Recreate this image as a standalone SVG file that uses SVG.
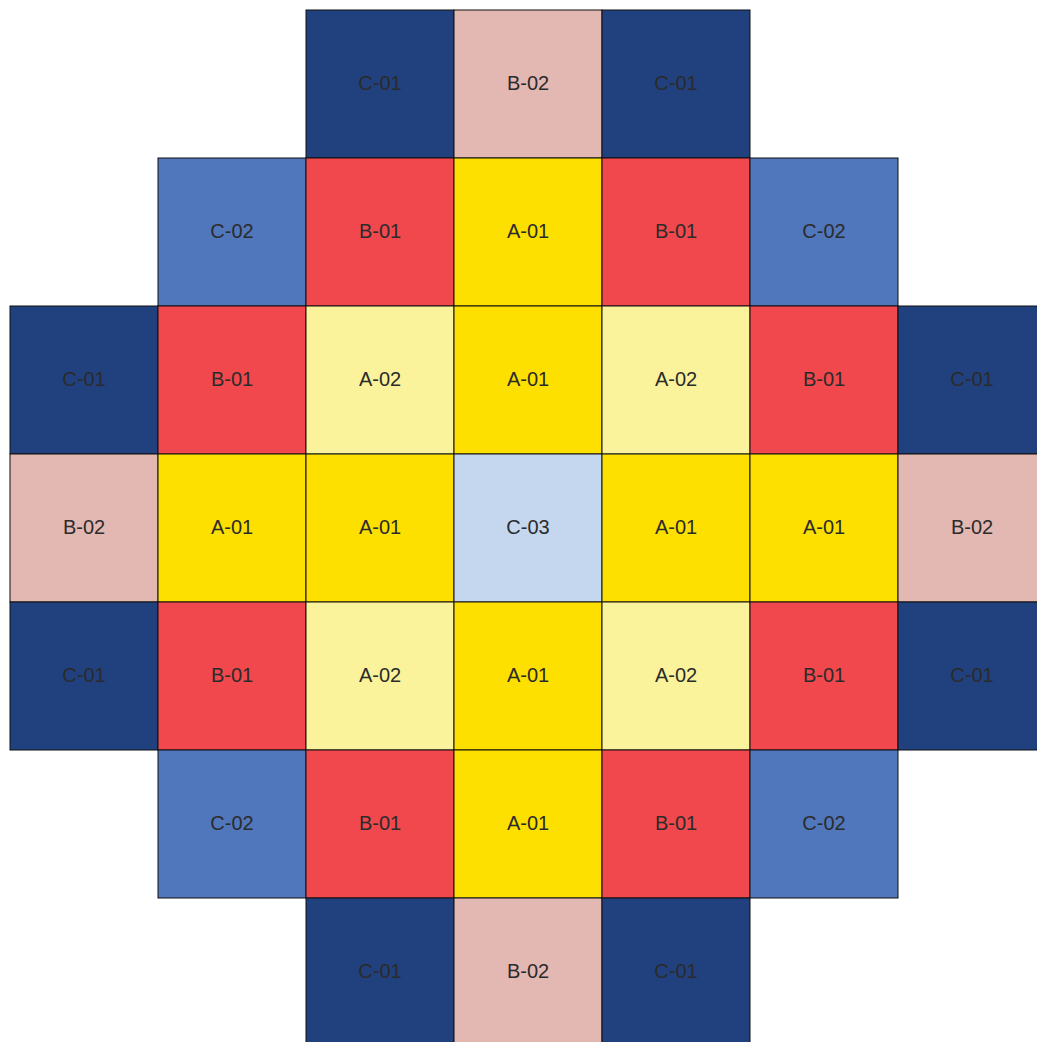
<svg xmlns="http://www.w3.org/2000/svg" width="1037" height="1042" viewBox="0 0 1037 1042">
<style>
rect{stroke:#111;stroke-width:1}
text{font-family:"Liberation Sans",Arial,sans-serif;font-size:20px;fill:#2b2b2b;text-anchor:middle;dominant-baseline:central}
.c1{fill:#21407E}.c2{fill:#5077BC}.c3{fill:#C5D7EE}
.b1{fill:#F0484C}.b2{fill:#E3B7B2}
.a1{fill:#FDE000}.a2{fill:#FAF39B}
</style>
<rect x="0" y="0" width="1037" height="1042" fill="#fff" style="stroke:none"/>
<g id="r0">
<g id="n0_2"><rect class="c1" x="306" y="10" width="148" height="148"/><text x="380" y="82.5">C-01</text></g>
<g id="n0_3"><rect class="b2" x="454" y="10" width="148" height="148"/><text x="528" y="82.5">B-02</text></g>
<g id="n0_4"><rect class="c1" x="602" y="10" width="148" height="148"/><text x="676" y="82.5">C-01</text></g>
</g>
<g id="r1">
<g id="n1_1"><rect class="c2" x="158" y="158" width="148" height="148"/><text x="232" y="230.5">C-02</text></g>
<g id="n1_2"><rect class="b1" x="306" y="158" width="148" height="148"/><text x="380" y="230.5">B-01</text></g>
<g id="n1_3"><rect class="a1" x="454" y="158" width="148" height="148"/><text x="528" y="230.5">A-01</text></g>
<g id="n1_4"><rect class="b1" x="602" y="158" width="148" height="148"/><text x="676" y="230.5">B-01</text></g>
<g id="n1_5"><rect class="c2" x="750" y="158" width="148" height="148"/><text x="824" y="230.5">C-02</text></g>
</g>
<g id="r2">
<g id="n2_0"><rect class="c1" x="10" y="306" width="148" height="148"/><text x="84" y="378.5">C-01</text></g>
<g id="n2_1"><rect class="b1" x="158" y="306" width="148" height="148"/><text x="232" y="378.5">B-01</text></g>
<g id="n2_2"><rect class="a2" x="306" y="306" width="148" height="148"/><text x="380" y="378.5">A-02</text></g>
<g id="n2_3"><rect class="a1" x="454" y="306" width="148" height="148"/><text x="528" y="378.5">A-01</text></g>
<g id="n2_4"><rect class="a2" x="602" y="306" width="148" height="148"/><text x="676" y="378.5">A-02</text></g>
<g id="n2_5"><rect class="b1" x="750" y="306" width="148" height="148"/><text x="824" y="378.5">B-01</text></g>
<g id="n2_6"><rect class="c1" x="898" y="306" width="148" height="148"/><text x="972" y="378.5">C-01</text></g>
</g>
<g id="r3">
<g id="n3_0"><rect class="b2" x="10" y="454" width="148" height="148"/><text x="84" y="526.5">B-02</text></g>
<g id="n3_1"><rect class="a1" x="158" y="454" width="148" height="148"/><text x="232" y="526.5">A-01</text></g>
<g id="n3_2"><rect class="a1" x="306" y="454" width="148" height="148"/><text x="380" y="526.5">A-01</text></g>
<g id="n3_3"><rect class="c3" x="454" y="454" width="148" height="148"/><text x="528" y="526.5">C-03</text></g>
<g id="n3_4"><rect class="a1" x="602" y="454" width="148" height="148"/><text x="676" y="526.5">A-01</text></g>
<g id="n3_5"><rect class="a1" x="750" y="454" width="148" height="148"/><text x="824" y="526.5">A-01</text></g>
<g id="n3_6"><rect class="b2" x="898" y="454" width="148" height="148"/><text x="972" y="526.5">B-02</text></g>
</g>
<g id="r4">
<g id="n4_0"><rect class="c1" x="10" y="602" width="148" height="148"/><text x="84" y="674.5">C-01</text></g>
<g id="n4_1"><rect class="b1" x="158" y="602" width="148" height="148"/><text x="232" y="674.5">B-01</text></g>
<g id="n4_2"><rect class="a2" x="306" y="602" width="148" height="148"/><text x="380" y="674.5">A-02</text></g>
<g id="n4_3"><rect class="a1" x="454" y="602" width="148" height="148"/><text x="528" y="674.5">A-01</text></g>
<g id="n4_4"><rect class="a2" x="602" y="602" width="148" height="148"/><text x="676" y="674.5">A-02</text></g>
<g id="n4_5"><rect class="b1" x="750" y="602" width="148" height="148"/><text x="824" y="674.5">B-01</text></g>
<g id="n4_6"><rect class="c1" x="898" y="602" width="148" height="148"/><text x="972" y="674.5">C-01</text></g>
</g>
<g id="r5">
<g id="n5_1"><rect class="c2" x="158" y="750" width="148" height="148"/><text x="232" y="822.5">C-02</text></g>
<g id="n5_2"><rect class="b1" x="306" y="750" width="148" height="148"/><text x="380" y="822.5">B-01</text></g>
<g id="n5_3"><rect class="a1" x="454" y="750" width="148" height="148"/><text x="528" y="822.5">A-01</text></g>
<g id="n5_4"><rect class="b1" x="602" y="750" width="148" height="148"/><text x="676" y="822.5">B-01</text></g>
<g id="n5_5"><rect class="c2" x="750" y="750" width="148" height="148"/><text x="824" y="822.5">C-02</text></g>
</g>
<g id="r6">
<g id="n6_2"><rect class="c1" x="306" y="898" width="148" height="148"/><text x="380" y="970.5">C-01</text></g>
<g id="n6_3"><rect class="b2" x="454" y="898" width="148" height="148"/><text x="528" y="970.5">B-02</text></g>
<g id="n6_4"><rect class="c1" x="602" y="898" width="148" height="148"/><text x="676" y="970.5">C-01</text></g>
</g>
<g id="connectors"/>
</svg>
